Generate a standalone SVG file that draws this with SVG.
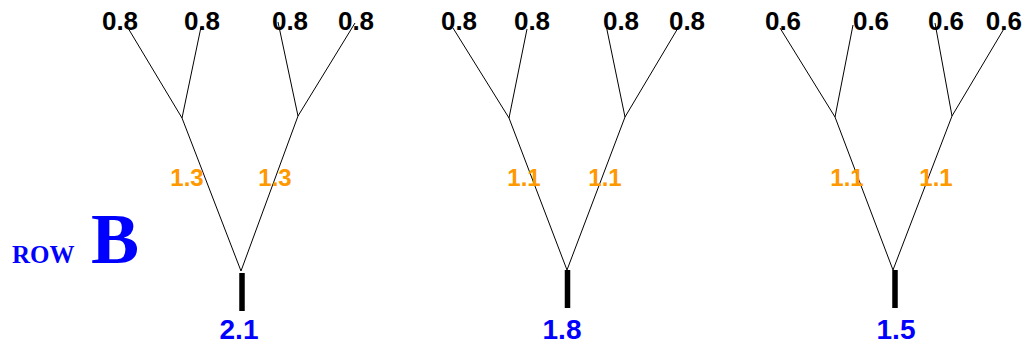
<svg xmlns="http://www.w3.org/2000/svg" width="1025" height="353" viewBox="0 0 1025 353">
<style>
.lf{font-family:"Liberation Sans",Arial,sans-serif;font-weight:bold;font-size:26px;fill:#000;text-anchor:middle}
.br{font-family:"Liberation Sans",Arial,sans-serif;font-weight:bold;font-size:24px;fill:#FF9900;text-anchor:middle}
.rt{font-family:"Liberation Sans",Arial,sans-serif;font-weight:bold;font-size:28px;fill:#0000FF;text-anchor:middle}
.ln{stroke:#000;stroke-width:1;fill:none}
.bar{stroke:#000;stroke-width:5.5;fill:none}
</style>
<rect width="1025" height="353" fill="#fff"/>
<g id="connectors">
<path class="ln" d="M241,271 L182,118 M241,271 L298,116 M182,118 L128,28 M182,118 L201,27 M298,116 L278,22 M298,116 L355,23"/>
<path class="ln" d="M567,270 L509,118 M567,270 L625,117 M509,118 L453,28 M509,118 L527,29 M625,117 L606,25 M625,117 L678,28"/>
<path class="ln" d="M893,270 L835,117 M893,270 L952,116 M835,117 L780,28 M835,117 L853,25 M952,116 L935,23 M952,116 L1005,27"/>
<path class="bar" d="M242,273 V311 M567.5,270 V308 M895,270 V308"/>
</g>
<g id="tree1">
<text class="lf" x="120" y="30">0.8</text>
<text class="lf" x="202" y="30">0.8</text>
<text class="lf" x="290" y="30">0.8</text>
<text class="lf" x="356" y="30">0.8</text>
<text class="br" x="187" y="186">1.3</text>
<text class="br" x="275" y="186">1.3</text>
<text class="rt" x="239" y="339">2.1</text>
</g>
<g id="tree2">
<text class="lf" x="459" y="30">0.8</text>
<text class="lf" x="532" y="30">0.8</text>
<text class="lf" x="621" y="30">0.8</text>
<text class="lf" x="687" y="30">0.8</text>
<text class="br" x="524" y="186">1.1</text>
<text class="br" x="605" y="186">1.1</text>
<text class="rt" x="562" y="339">1.8</text>
</g>
<g id="tree3">
<text class="lf" x="783" y="30">0.6</text>
<text class="lf" x="871" y="30">0.6</text>
<text class="lf" x="946" y="30">0.6</text>
<text class="lf" x="1022" y="30" style="text-anchor:end">0.6</text>
<text class="br" x="847" y="186">1.1</text>
<text class="br" x="936" y="186">1.1</text>
<text class="rt" x="896" y="339">1.5</text>
</g>
<g id="rowlabel" font-family="'Liberation Serif','Times New Roman',serif" font-weight="bold" fill="#0000FF">
<text x="12" y="263" font-size="25">ROW</text>
<text x="91" y="263" font-size="72">B</text>
</g>
</svg>
